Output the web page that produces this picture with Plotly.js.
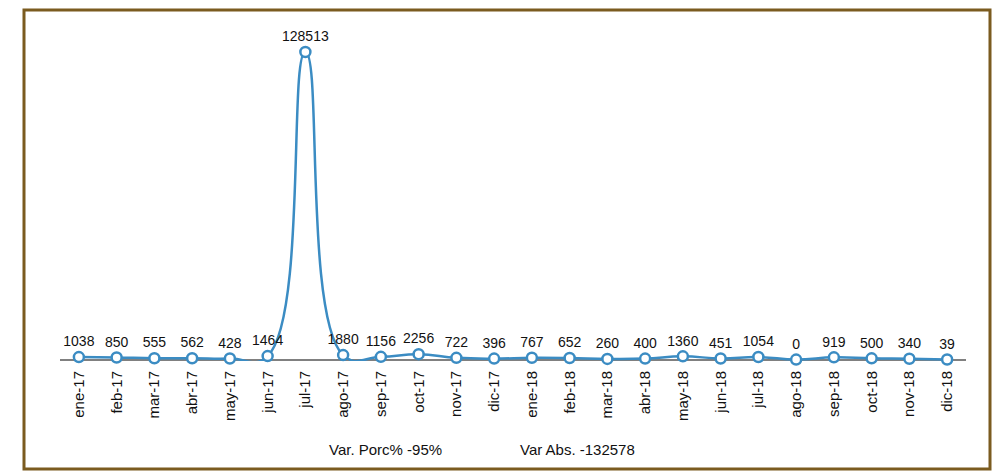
<!DOCTYPE html>
<html>
<head>
<meta charset="utf-8">
<script src="https://cdn.plot.ly/plotly-3.0.1.min.js"></script>
<style>
html,body{margin:0;padding:0;background:#fff;}
#chart{width:994px;height:472px;}
</style>
</head>
<body>
<div id="chart"></div>
<script>
const months = ["ene-17","feb-17","mar-17","abr-17","may-17","jun-17","jul-17","ago-17","sep-17","oct-17","nov-17","dic-17",
                "ene-18","feb-18","mar-18","abr-18","may-18","jun-18","jul-18","ago-18","sep-18","oct-18","nov-18","dic-18"];
const values = [1038,850,555,562,428,1464,128513,1880,1156,2256,722,396,
                767,652,260,400,1360,451,1054,0,919,500,340,39];
const noteLabels = ["Var. Porc% -95%", "Var Abs. -132578"];

const W = 994, H = 472;
const L = 60, R = 28, T = 20, B = 111;
const pw = W - L - R, ph = H - T - B;
const px = x => (x - L) / pw;
const py = y => (H - B - y) / ph;

const trace = {
  x: months,
  y: values,
  type: 'scatter',
  mode: 'lines+markers+text',
  line: {shape: 'spline', smoothing: 1.3, color: '#3b8cc3', width: 2.5},
  marker: {size: 10, color: '#ffffff', line: {color: '#3b8cc3', width: 2.5}},
  text: values.map(String),
  textposition: 'top center',
  textfont: {family: 'Liberation Sans Narrow, Arial Narrow, sans-serif', size: 14, color: '#111'},
  cliponaxis: false,
  hoverinfo: 'x+y'
};

const layout = {
  width: W, height: H,
  margin: {l: L, r: R, t: T, b: B},
  paper_bgcolor: '#ffffff',
  plot_bgcolor: '#ffffff',
  showlegend: false,
  xaxis: {
    type: 'category',
    range: [-0.5, months.length - 0.5],
    showline: false,
    showgrid: false, zeroline: false,
    ticks: '', tickangle: -90, ticklabelstandoff: 6,
    tickfont: {family: 'Liberation Sans Narrow, Arial Narrow, sans-serif', size: 15, color: '#111'}
  },
  yaxis: {
    range: [-600, 141865],
    showgrid: false, showticklabels: false, ticks: '', showline: false,
    zeroline: true, zerolinecolor: '#808080', zerolinewidth: 2
  },
  shapes: [{
    type: 'rect', xref: 'paper', yref: 'paper',
    x0: px(24), x1: px(990), y0: py(469), y1: py(10),
    line: {color: '#7b5b1f', width: 3}, fillcolor: 'rgba(0,0,0,0)'
  }],
  annotations: [
    {text: noteLabels[0], xref: 'paper', yref: 'paper', x: px(385), y: py(449),
     xanchor: 'center', yanchor: 'middle', showarrow: false,
     font: {family: 'Liberation Sans Narrow, Arial Narrow, sans-serif', size: 15, color: '#111'}},
    {text: noteLabels[1], xref: 'paper', yref: 'paper', x: px(577), y: py(449),
     xanchor: 'center', yanchor: 'middle', showarrow: false,
     font: {family: 'Liberation Sans Narrow, Arial Narrow, sans-serif', size: 15, color: '#111'}}
  ]
};

Plotly.newPlot('chart', [trace], layout, {displayModeBar: false, staticPlot: true});
</script>
</body>
</html>
